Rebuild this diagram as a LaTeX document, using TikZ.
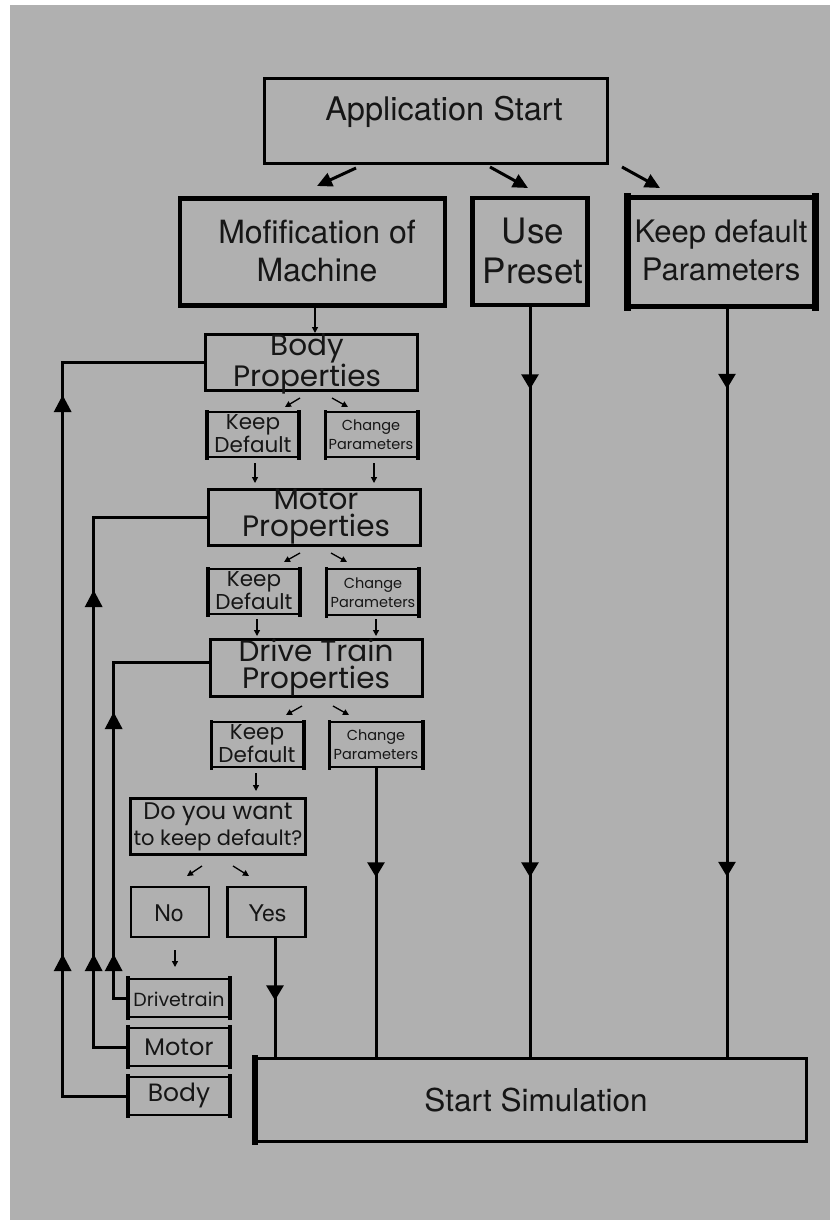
\documentclass[tikz,border=0pt]{standalone}
\usepackage{fontspec}
\setmainfont{TeX Gyre Heros}
\newfontfamily\geo{Poppins}
\usetikzlibrary{arrows.meta,decorations.markings}

\definecolor{bggray}{RGB}{176,176,176}
\definecolor{ink}{RGB}{22,22,22}

\begin{document}
\begin{tikzpicture}[x=1pt,y=-1pt,
  box/.style={draw=black, line width=#1, inner sep=0pt},
  box/.default=3pt,
  sz/.style 2 args={minimum width=#1, minimum height=#2},
  lbl/.style={text=ink, align=center, inner sep=0pt},
  feed/.style={line width=3pt, postaction={decorate}},
  bigtip/.style={-{Triangle[width=14pt,length=15pt]}, line width=3pt},
  smalltip/.style={-{Triangle[width=6pt,length=6pt]}, line width=1.3pt},
  upmarks/.style 2 args={decoration={markings,
      mark=at position #1 with {\arrow{Triangle[width=17pt,length=17pt]}},
      mark=at position #2 with {\arrow{Triangle[width=17pt,length=17pt]}}}},
  downmark/.style={decoration={markings,
      mark=at position #1 with {\arrow{Triangle[width=17pt,length=15pt]}}}},
  downmarks/.style 2 args={decoration={markings,
      mark=at position #1 with {\arrow{Triangle[width=17pt,length=15pt]}},
      mark=at position #2 with {\arrow{Triangle[width=17pt,length=15pt]}}}},
]
% canvas
\fill[white] (0,0) rectangle (830,1220);
\fill[bggray] (10,5) rectangle (830,1220);
\useasboundingbox (0,0) rectangle (830,1220);

% ---- top level boxes
\node[box=3.5pt, sz={343pt}{85pt}] (appstart) at (436,121) {};
\node[lbl, font=\fontsize{32.5}{36}\selectfont] (appstart-t) at (444,112) {Application Start};

\node[box=4.5pt, sz={265pt}{107pt}] (modif) at (312.5,252) {};
\node[lbl, font=\fontsize{32}{38}\selectfont] (modif-t) at (317,251) {Mofification of\\Machine};

\node[box=4.5pt, sz={115pt}{107pt}] (preset) at (530,251.5) {};
\node[lbl, font=\fontsize{35}{40}\selectfont] (preset-t) at (533,251) {Use\\Preset};

\node[box=4.5pt, sz={186pt}{109pt}] (keepdef) at (721.5,252) {};
\node[lbl, font=\fontsize{31}{38}\selectfont] (keepdef-t) at (721,250) {Keep default\\Parameters};
\fill ([xshift=-2pt,yshift=2pt]keepdef.north west) rectangle ([xshift=5pt,yshift=-2pt]keepdef.south west);
\fill ([xshift=-5pt,yshift=2pt]keepdef.north east) rectangle ([xshift=2pt,yshift=-2pt]keepdef.south east);

% ---- property stages
\node[box=3pt, sz={212pt}{56pt}] (bodyprop) at (311.5,362.5) {};
\node[lbl, font=\geo\fontsize{29.5}{27}\selectfont] (bodyprop-t) at (307,364) {Body\\Properties};

\node[box=2.5pt, sz={91pt}{45pt}] (kd1) at (253,434.5) {};
\node[lbl, font=\geo\fontsize{21.5}{21}\selectfont] (kd1-t) at (253,434) {Keep\\Default};
\node[box=2.5pt, sz={91pt}{45pt}] (cp1) at (371.5,434.5) {};
\node[lbl, font=\geo\fontsize{14.5}{19}\selectfont] (cp1-t) at (371,435) {Change\\Parameters};

\node[box=3pt, sz={212pt}{56pt}] (motorprop) at (314.5,517.5) {};
\node[lbl, font=\geo\fontsize{29.5}{27}\selectfont] (motorprop-t) at (316,517) {Motor\\Properties};

\node[box=2.5pt, sz={91pt}{45pt}] (kd2) at (254,591.5) {};
\node[lbl, font=\geo\fontsize{21.5}{21}\selectfont] (kd2-t) at (254,591) {Keep\\Default};
\node[box=2.5pt, sz={91pt}{46pt}] (cp2) at (372.5,592) {};
\node[lbl, font=\geo\fontsize{14.5}{19}\selectfont] (cp2-t) at (373,592.5) {Change\\Parameters};

\node[box=3pt, sz={212pt}{57pt}] (dtprop) at (316.5,668) {};
\node[lbl, font=\geo\fontsize{29.5}{27}\selectfont] (dtprop-t) at (316,668) {Drive Train\\Properties};

\node[box=2.5pt, sz={91pt}{45pt}] (kd3) at (257.5,744.5) {};
\node[lbl, font=\geo\fontsize{21.5}{21}\selectfont] (kd3-t) at (257,744) {Keep\\Default};
\node[box=2.5pt, sz={92pt}{45pt}] (cp3) at (376,744.5) {};
\node[lbl, font=\geo\fontsize{14.5}{19}\selectfont] (cp3-t) at (376,745) {Change\\Parameters};

% thicker side edges of the small choice boxes
\foreach \b in {kd1,cp1,kd2,cp2,kd3,cp3}{
  \fill ([xshift=-1.25pt,yshift=1.25pt]\b.north west) rectangle ([xshift=2.5pt,yshift=-1.25pt]\b.south west);
  \fill ([xshift=-2.5pt,yshift=1.25pt]\b.north east) rectangle ([xshift=1.25pt,yshift=-1.25pt]\b.south east);
}

% ---- decision
\node[box=2.7pt, sz={175pt}{56pt}] (dowant) at (218,826.5) {};
\node[lbl, font=\geo\fontsize{21}{26}\selectfont] (dowant-t) at (218,827) {{\fontsize{24}{26}\selectfont Do you want}\\to keep default?};

\node[box=2.7pt, sz={78pt}{50pt}] (no) at (170,912) {};
\node[lbl, font=\fontsize{23}{26}\selectfont] (no-t) at (169,913) {No};
\node[box=2.7pt, sz={78pt}{50pt}] (yes) at (266.5,912) {};
\node[lbl, font=\fontsize{23}{26}\selectfont] (yes-t) at (267.5,913) {Yes};

% ---- redo choices
\node[box=2.7pt, sz={100pt}{38pt}] (dtbox) at (179,998) {};
\node[lbl, font=\geo\fontsize{19}{20}\selectfont] (dtbox-t) at (179,999) {Drivetrain};
\node[box=2.7pt, sz={100pt}{38pt}] (motorbox) at (179,1047) {};
\node[lbl, font=\geo\fontsize{24}{24}\selectfont] (motorbox-t) at (179,1047) {Motor};
\node[box=2.7pt, sz={100pt}{38pt}] (bodybox) at (179,1096) {};
\node[lbl, font=\geo\fontsize{25}{24}\selectfont] (bodybox-t) at (179,1095) {Body};
\foreach \b in {dtbox,motorbox,bodybox}{
  \fill ([xshift=-1.35pt,yshift=1.35pt]\b.north west) rectangle ([xshift=2.7pt,yshift=-1.35pt]\b.south west);
  \fill ([xshift=-2.7pt,yshift=1.35pt]\b.north east) rectangle ([xshift=1.35pt,yshift=-1.35pt]\b.south east);
}

% ---- end
\node[box=3.5pt, sz={551pt}{83pt}] (startsim) at (531,1100) {};
\node[lbl, font=\fontsize{31.5}{36}\selectfont] (startsim-t) at (536,1100) {Start Simulation};
\fill ([xshift=-1.75pt,yshift=1.75pt]startsim.north west) rectangle ([xshift=4.5pt,yshift=-1.75pt]startsim.south west);

% ---- arrows out of the start box
\coordinate (a1s) at (356,168); \coordinate (a1e) at (317,186);
\coordinate (a2s) at (490,167); \coordinate (a2e) at (528,188);
\coordinate (a3s) at (622,167); \coordinate (a3e) at (660,188);
\draw[bigtip] (a1s) -- (a1e);
\draw[bigtip] (a2s) -- (a2e);
\draw[bigtip] (a3s) -- (a3e);

% ---- small step arrows
\draw[smalltip] ([xshift=2.5pt]modif.south) -- ([xshift=2.5pt]modif.south |- bodyprop.north);
\draw[smalltip] (300,398) -- (285,407);
\draw[smalltip] (332,398) -- (348,407);
\draw[smalltip] (kd1.south) ++(2,5) -- (255,483);
\draw[smalltip] (cp1.south) ++(2.5,5) -- (374,483);
\draw[smalltip] (300,553) -- (284,562);
\draw[smalltip] (331,553) -- (347,562);
\draw[smalltip] (kd2.south) ++(3,4) -- (257,636);
\draw[smalltip] (cp2.south) ++(3.5,3) -- (376,636);
\draw[smalltip] (302,706) -- (286,715);
\draw[smalltip] (333,706) -- (349,715);
\draw[smalltip] (kd3.south) ++(-1.5,5) -- (256,791);
\draw[smalltip] (202,866) -- (187,876);
\draw[smalltip] (233,866) -- (249,876);
\draw[smalltip] (no.south) ++(5,12) -- (175,967);

% ---- feedback loops back to the property stages
\draw[feed, upmarks={207pt}{766pt}] (bodybox.west) -- ++(-65,0) |- (bodyprop.west);
\draw[feed, upmarks={127pt}{491pt}] (motorbox.west) -- ++(-34,0) |- (motorprop.west);
\draw[feed, upmarks={58pt}{300pt}] (dtbox.west) -- ++(-14,0) |- ([yshift=6pt]dtprop.west);

% ---- paths into the simulation
\draw[feed, downmark=62pt] ([xshift=8.5pt]yes.south) -- ([xshift=8.5pt]yes.south |- startsim.north);
\draw[feed, downmark=109pt] (cp3.south) -- (cp3.south |- startsim.north);
\draw[feed, downmarks={82pt}{570pt}] (preset.south) -- (preset.south |- startsim.north);
\draw[feed, downmarks={80pt}{568pt}] ([xshift=5.5pt]keepdef.south) -- ([xshift=5.5pt]keepdef.south |- startsim.north);
\end{tikzpicture}
\end{document}
